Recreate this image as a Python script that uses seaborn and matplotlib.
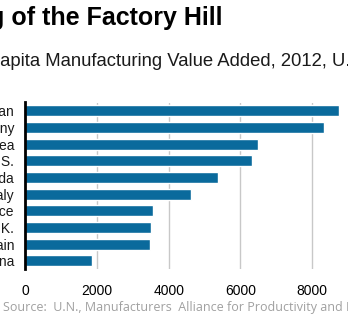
import matplotlib
matplotlib.use("Agg")
import matplotlib.pyplot as plt
import seaborn as sns
import pandas as pd

countries = ["Japan", "Germany", "South Korea", "U.S.", "Canada", "Italy",
             "France", "U.K.", "Spain", "China"]
values = [8760, 8350, 6490, 6330, 5370, 4630, 3570, 3510, 3480, 1870]
xticks = [0, 2000, 4000, 6000, 8000]

title = "King of the Factory Hill"
subtitle = "Per Capita Manufacturing Value Added, 2012, U.S. dollars"
source = "Source:  U.N., Manufacturers  Alliance for Productivity and Innovation"

sns.set_style("white")
plt.rcParams["font.family"] = ["Liberation Sans", "DejaVu Sans"]

W, H = 348, 323
fig = plt.figure(figsize=(W / 100, H / 100), dpi=100)
x0, x1 = 25.5, 25.5 + 9000 * 0.0358
ytop, ybot = 102.5, 269.2
ax = fig.add_axes([x0 / W, 1 - ybot / H, (x1 - x0) / W, (ybot - ytop) / H])

df = pd.DataFrame({"country": countries, "value": values})
sns.barplot(data=df, x="value", y="country", ax=ax, color="#0a6a9c",
            saturation=1, width=0.65, orient="h")
ax.set_xlim(0, 9000)
ax.set_ylim(9.5, -0.5)
ax.set_xticks(xticks)
ax.set_xticklabels([str(t) for t in xticks])
ax.set_xlabel("")
ax.set_ylabel("")
ax.xaxis.grid(True, color="#c8c8c8", linewidth=1)
ax.set_axisbelow(True)
for s in ["top", "right", "bottom"]:
    ax.spines[s].set_visible(False)
ax.spines["left"].set_color("black")
ax.spines["left"].set_linewidth(2)
ax.tick_params(axis="x", length=0, pad=11, labelsize=10, colors="black")
ax.tick_params(axis="y", length=0, pad=8, labelsize=10, colors="#1a1a1a")

renderer = fig.canvas.get_renderer()

def place(text, prefix, vis_x, y_px, **kw):
    t = fig.text(0, 0, prefix, **kw)
    w = t.get_window_extent(renderer).width
    t.remove()
    fig.text((vis_x - w) / W, 1 - y_px / H, text, va="center", ha="left", **kw)

place(title, "King ", 11, 18, fontsize=18, fontweight="bold", color="black")
place(subtitle, "Per C", 0.5, 61, fontsize=13.3, color="#1a1a1a")
fig.text(3 / W, 1 - 308 / H, source, va="center", ha="left",
         fontsize=9, color="#a0a0a0", family=["Open Sans", "DejaVu Sans"])

fig.savefig("out.png", dpi=100)
